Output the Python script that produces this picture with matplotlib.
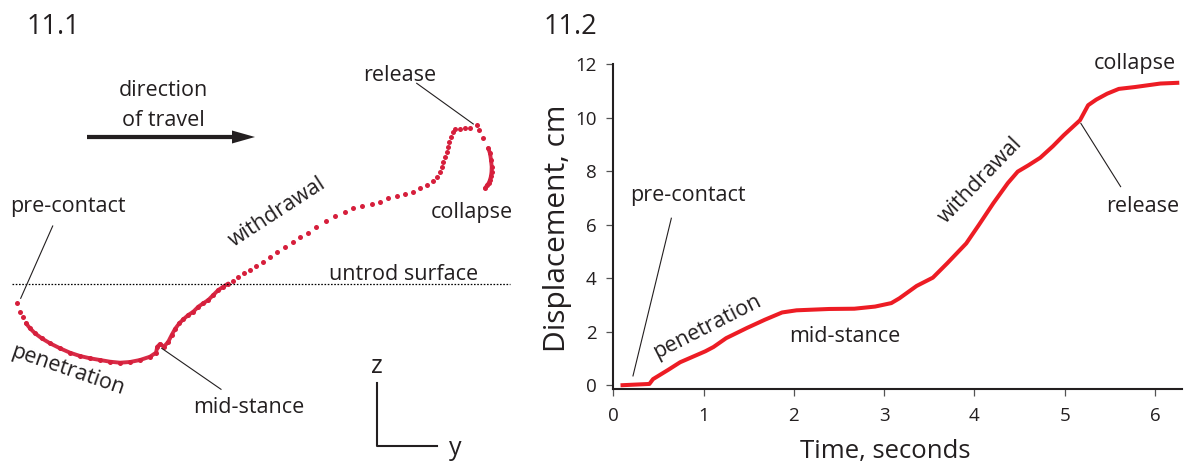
import matplotlib
matplotlib.use("Agg")
import matplotlib.pyplot as plt

plt.rcParams['font.family'] = ['Open Sans', 'DejaVu Sans']

TXT = '#231f20'
DOT = '#d61f3c'
RED = '#ed1c24'

# ---------------- 11.1 : foot trajectory (y = forward, z = height rel. to untrod surface)
track_y = [17.3, 20.0, 22.7, 26.0, 30.0, 35.0, 41.7, 50.0, 60.0, 70.0, 80.0, 90.0,
           100.0, 110.0, 120.0, 130.0, 140.0, 150.0, 156.0, 157.3, 160.0, 164.0,
           168.3, 171.7, 175.0, 179.3, 183.3, 188.3, 193.3, 198.3, 203.3, 208.3,
           213.3, 218.3, 223.3, 228.3,
           233.3, 238.3, 244.0, 250.0, 256.0, 263.0, 270.0, 276.7, 285.0, 292.7,
           300.0, 308.3, 315.7, 325.7, 335.0, 345.0, 353.3, 362.3, 371.7, 380.0,
           388.3, 396.7, 405.0, 413.3, 420.0, 426.7, 433.3, 437.3, 440.0, 441.7,
           443.3, 445.0, 446.7, 448.3, 449.3, 450.7, 452.7, 455.0, 460.0, 465.0,
           470.0, 476.7, 479.3, 483.3,
           488.3, 490.0, 491.0, 491.7, 491.5, 491.0, 490.0, 488.7, 487.3, 485.0]
track_z = [-19.8, -28.2, -33.8, -39.8, -44.8, -49.8, -54.8, -59.8, -64.8, -69.2, -72.5, -74.8,
           -76.5, -78.2, -79.2, -78.5, -76.5, -73.2, -69.2, -63.2, -60.5, -63.2,
           -58.2, -51.5, -45.5, -39.8, -35.8, -31.5, -28.2, -23.2, -19.8, -16.5,
           -11.5, -6.5, -3.2, 0.0,
           2.8, 6.8, 10.5, 13.5, 17.5, 21.8, 26.5, 31.8, 36.8, 41.2,
           46.2, 50.8, 56.2, 62.8, 67.5, 71.8, 75.2, 77.5, 79.5, 81.8,
           85.2, 87.5, 89.5, 91.8, 95.2, 98.5, 102.8, 106.8, 111.8, 116.8,
           121.8, 126.8, 131.8, 136.8, 141.8, 146.8, 151.8, 154.2, 154.5, 155.2,
           155.2, 158.5, 153.5, 145.2,
           135.2, 130.2, 123.5, 116.8, 111.5, 107.5, 103.5, 100.5, 98.5, 95.2]
dense_penetration = (3, 36)   # index range where the samples merge into a line
dense_collapse = (80, 90)

# ---------------- 11.2 : displacement vs time
time_s = [0.08, 0.40, 0.44, 0.61, 0.74, 1.02, 1.11, 1.25, 1.48, 1.68, 1.87, 2.03,
          2.39, 2.67, 2.90, 3.08, 3.17, 3.36, 3.54, 3.70, 3.91, 4.05, 4.21, 4.37,
          4.48, 4.60, 4.73, 4.87, 4.99, 5.17, 5.26, 5.35, 5.47, 5.60, 5.78, 6.06, 6.27]
disp_cm = [0.00, 0.05, 0.23, 0.58, 0.86, 1.27, 1.43, 1.76, 2.14, 2.45, 2.72, 2.80,
           2.85, 2.86, 2.94, 3.07, 3.25, 3.71, 4.02, 4.56, 5.30, 5.99, 6.80, 7.55,
           7.98, 8.22, 8.50, 8.93, 9.34, 9.90, 10.46, 10.67, 10.89, 11.07, 11.14, 11.27, 11.30]
x_ticks = [0, 1, 2, 3, 4, 5, 6]
y_ticks = [0, 2, 4, 6, 8, 10, 12]

W, H = 1188, 465
fig = plt.figure(figsize=(W / 100, H / 100), dpi=100)

FS = 15.5

# ======== left panel
ax1 = fig.add_axes([0, 0, 530 / W, 1])
ax1.set_xlim(0, 530)
ax1.set_ylim(283.5 - 465, 283.5)
ax1.axis('off')

a, b = dense_penetration
ax1.plot(track_y[a:b], track_z[a:b], color=DOT, lw=2.8, solid_capstyle='round', alpha=0.95)
a, b = dense_collapse
ax1.plot(track_y[a:b], track_z[a:b], color=DOT, lw=2.8, solid_capstyle='round', alpha=0.95)
ax1.plot(track_y, track_z, linestyle='none', marker='o', ms=3.6, mec='none', mfc=DOT)

# untrod surface
ax1.plot([12, 510], [0, 0], color='black', lw=0.9, linestyle=(0, (1.3, 1.3)))
ax1.text(404, 3.5, 'untrod surface', fontsize=FS, color=TXT, ha='center', va='baseline')

# direction of travel
ax1.text(163, 187.5, 'direction', fontsize=FS, color=TXT, ha='center', va='baseline')
ax1.text(163.5, 157.5, 'of travel', fontsize=FS, color=TXT, ha='center', va='baseline')
ax1.arrow(87, 146.5, 168, 0, width=4.2, head_width=13, head_length=23,
          length_includes_head=True, color=TXT, lw=0)

# labels and leaders
ax1.text(400, 202, 'release', fontsize=FS, color=TXT, ha='center', va='baseline')
ax1.plot([416.7, 473.3], [200.2, 159.5], color=TXT, lw=0.8)
ax1.text(471.7, 65.5, 'collapse', fontsize=FS, color=TXT, ha='center', va='baseline')
ax1.text(68.3, 71.8, 'pre-contact', fontsize=FS, color=TXT, ha='center', va='baseline')
ax1.plot([52.7, 20.7], [57.5, -14.8], color=TXT, lw=0.8)
ax1.text(68, -86.5, 'penetration', fontsize=FS, color=TXT, ha='center', va='center',
         rotation=-19)
ax1.text(277, 71.5, 'withdrawal', fontsize=FS, color=TXT, ha='center', va='center',
         rotation=33)
ax1.text(249, -129.8, 'mid-stance', fontsize=FS, color=TXT, ha='center', va='baseline')
ax1.plot([161.7, 221], [-64.8, -105.8], color=TXT, lw=0.8)

# z-y indicator
ax1.plot([377.3, 377.3, 437.3], [-99.2, -162.5, -162.5], color=TXT, lw=1.5)
ax1.text(376.7, -89.8, 'z', fontsize=18, color=TXT, ha='center', va='baseline')
ax1.text(455, -171.5, 'y', fontsize=18, color=TXT, ha='center', va='baseline')

fig.text(27 / W, 1 - 33.5 / H, '11.1', fontsize=19.5, color=TXT, ha='left', va='baseline')
fig.text(544 / W, 1 - 33.5 / H, '11.2', fontsize=19.5, color=TXT, ha='left', va='baseline')

# ======== right panel
x0, x1 = 613.3, 1182
y_top, y_bot = 64, 389.3
ax2 = fig.add_axes([x0 / W, 1 - y_bot / H, (x1 - x0) / W, (y_bot - y_top) / H])
ax2.plot(time_s, disp_cm, color=RED, lw=2.9, solid_joinstyle='round', solid_capstyle='butt')
ax2.set_xlim(0, 6.3)
ax2.set_ylim(-0.15, 12)
ax2.set_xticks(x_ticks)
ax2.set_yticks(y_ticks)
for s in ['top', 'right']:
    ax2.spines[s].set_visible(False)
for s in ['left', 'bottom']:
    ax2.spines[s].set_color(TXT)
    ax2.spines[s].set_linewidth(1.5)
ax2.tick_params(axis='both', direction='out', length=5, width=0.9, colors='#555555',
                labelcolor=TXT, labelsize=13.5)
ax2.tick_params(axis='x', pad=8)
ax2.tick_params(axis='y', pad=7)

ax2.set_xlabel('Time, seconds', fontsize=18.5, color=TXT)
ax2.xaxis.set_label_coords((885 - x0) / (x1 - x0), (y_bot - 458) / (y_bot - y_top))
ax2.xaxis.label.set_verticalalignment('baseline')
ax2.set_ylabel('Displacement, cm', fontsize=21.5, color=TXT)
ax2.yaxis.label.set_rotation_mode('anchor')
ax2.yaxis.label.set_verticalalignment('baseline')
ax2.yaxis.label.set_horizontalalignment('center')
ax2.yaxis.set_label_coords((565 - x0) / (x1 - x0), (y_bot - 228) / (y_bot - y_top))

ax2.text(0.827, 6.88, 'pre-contact', fontsize=FS, color=TXT, ha='center', va='baseline')
ax2.plot([0.643, 0.218], [6.24, 0.35], color=TXT, lw=0.8)
ax2.text(1.041, 2.19, 'penetration', fontsize=FS, color=TXT, ha='center', va='center',
         rotation=27)
ax2.text(2.565, 1.63, 'mid-stance', fontsize=FS, color=TXT, ha='center', va='baseline')
ax2.text(4.062, 7.67, 'withdrawal', fontsize=FS, color=TXT, ha='center', va='center',
         rotation=46)
ax2.text(5.866, 6.48, 'release', fontsize=FS, color=TXT, ha='center', va='baseline')
ax2.plot([5.18, 5.62], [9.78, 7.42], color=TXT, lw=0.8)
ax2.text(5.778, 11.80, 'collapse', fontsize=FS, color=TXT, ha='center', va='baseline')

fig.savefig('out.png', dpi=100)
